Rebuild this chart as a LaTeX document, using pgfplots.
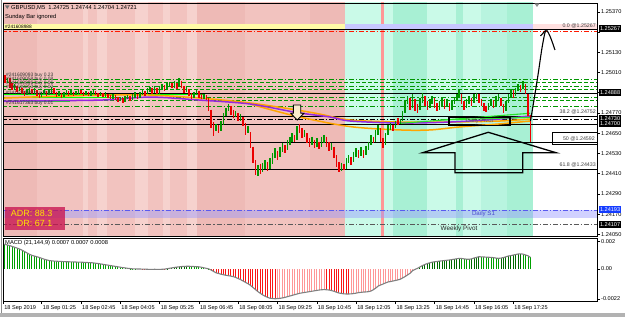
\documentclass[border=0pt]{standalone}
\usepackage{fontspec}
\setmainfont{Liberation Sans}
\usepackage{pgfplots}
\usepackage{pgfplotstable}
\pgfplotsset{compat=1.18}

\definecolor{pA}{RGB}{242,195,191}
\definecolor{pB}{RGB}{238,186,182}
\definecolor{pC}{RGB}{246,210,206}
\definecolor{mA}{RGB}{202,250,232}
\definecolor{mB}{RGB}{168,240,212}
\definecolor{mC}{RGB}{184,244,223}
\definecolor{cgreen}{RGB}{0,150,0}
\definecolor{cred}{RGB}{235,0,0}
\definecolor{hgd}{RGB}{0,105,0}
\definecolor{hgl}{RGB}{0,160,0}
\definecolor{hrb}{RGB}{250,20,20}
\definecolor{hrl}{RGB}{255,150,150}
\definecolor{lvl}{RGB}{0,150,0}
\definecolor{sone}{RGB}{90,90,240}
\definecolor{maor}{RGB}{255,165,0}
\definecolor{mapu}{RGB}{150,40,220}
\definecolor{lime}{RGB}{40,225,40}
\definecolor{adr}{RGB}{200,20,80}
\definecolor{cream}{RGB}{250,235,205}

\pgfplotstableread{
n lo hi c
0 1.24990 1.25045 0
1 1.24950 1.24995 0
2 1.24945 1.24980 1
3 1.24920 1.24975 0
4 1.24905 1.24945 0
5 1.24910 1.24940 1
6 1.24895 1.24930 0
7 1.24900 1.24925 1
8 1.24880 1.24915 0
9 1.24870 1.24900 0
10 1.24875 1.24905 1
11 1.24890 1.24915 1
12 1.24880 1.24910 0
13 1.24885 1.24920 1
14 1.24870 1.24905 0
15 1.24860 1.24890 0
16 1.24865 1.24895 1
17 1.24880 1.24905 1
18 1.24870 1.24900 0
19 1.24875 1.24910 1
20 1.24890 1.24925 1
21 1.24880 1.24915 0
22 1.24865 1.24895 0
23 1.24870 1.24900 1
24 1.24860 1.24890 0
25 1.24865 1.24895 1
26 1.24875 1.24905 1
27 1.24870 1.24900 0
28 1.24875 1.24905 1
29 1.24870 1.24895 0
30 1.24875 1.24900 1
31 1.24885 1.24910 1
32 1.24880 1.24905 0
33 1.24870 1.24895 0
34 1.24875 1.24900 1
35 1.24868 1.24892 0
36 1.24872 1.24898 1
37 1.24880 1.24905 1
38 1.24875 1.24900 0
39 1.24865 1.24890 0
40 1.24870 1.24895 1
41 1.24862 1.24888 0
42 1.24866 1.24892 1
43 1.24858 1.24885 0
44 1.24850 1.24878 0
45 1.24855 1.24880 1
46 1.24845 1.24875 0
47 1.24835 1.24862 0
48 1.24838 1.24865 1
49 1.24830 1.24858 0
50 1.24835 1.24868 1
51 1.24850 1.24878 1
52 1.24842 1.24872 0
53 1.24848 1.24880 1
54 1.24860 1.24892 1
55 1.24855 1.24885 0
56 1.24860 1.24895 1
57 1.24875 1.24905 1
58 1.24870 1.24900 0
59 1.24880 1.24915 1
60 1.24895 1.24925 1
61 1.24885 1.24918 0
62 1.24890 1.24930 1
63 1.24880 1.24915 0
64 1.24885 1.24925 1
65 1.24905 1.24940 1
66 1.24900 1.24935 0
67 1.24905 1.24945 1
68 1.24925 1.24955 1
69 1.24915 1.24950 0
70 1.24920 1.24958 1
71 1.24910 1.24945 0
72 1.24925 1.24975 1
73 1.24915 1.24960 0
74 1.24890 1.24930 0
75 1.24895 1.24925 1
76 1.24870 1.24910 0
77 1.24855 1.24890 0
78 1.24860 1.24895 1
79 1.24875 1.24905 1
80 1.24860 1.24900 0
81 1.24850 1.24885 0
82 1.24855 1.24880 1
83 1.24845 1.24875 0
84 1.24780 1.24860 0
85 1.24680 1.24790 0
86 1.24635 1.24715 0
87 1.24660 1.24705 1
88 1.24650 1.24700 0
89 1.24665 1.24720 1
90 1.24700 1.24770 1
91 1.24750 1.24800 1
92 1.24780 1.24825 1
93 1.24760 1.24810 0
94 1.24740 1.24790 0
95 1.24745 1.24780 1
96 1.24720 1.24770 0
97 1.24725 1.24765 1
98 1.24690 1.24745 0
99 1.24640 1.24710 0
100 1.24650 1.24695 1
101 1.24560 1.24655 0
102 1.24470 1.24570 0
103 1.24400 1.24490 0
104 1.24395 1.24460 1
105 1.24410 1.24470 0
106 1.24420 1.24475 1
107 1.24440 1.24490 1
108 1.24425 1.24480 0
109 1.24440 1.24500 1
110 1.24470 1.24530 1
111 1.24500 1.24560 1
112 1.24490 1.24545 0
113 1.24510 1.24570 1
114 1.24540 1.24590 1
115 1.24530 1.24580 0
116 1.24550 1.24610 1
117 1.24580 1.24630 1
118 1.24600 1.24650 1
119 1.24595 1.24640 0
120 1.24610 1.24690 1
121 1.24650 1.24705 0
122 1.24620 1.24680 0
123 1.24630 1.24670 1
124 1.24590 1.24650 0
125 1.24570 1.24620 0
126 1.24580 1.24630 1
127 1.24560 1.24610 0
128 1.24570 1.24620 1
129 1.24555 1.24600 0
130 1.24565 1.24630 1
131 1.24590 1.24640 1
132 1.24570 1.24630 0
133 1.24545 1.24600 0
134 1.24550 1.24590 1
135 1.24500 1.24570 0
136 1.24450 1.24520 0
137 1.24420 1.24480 0
138 1.24425 1.24475 1
139 1.24430 1.24470 0
140 1.24440 1.24500 1
141 1.24470 1.24520 1
142 1.24460 1.24510 0
143 1.24480 1.24540 1
144 1.24510 1.24560 1
145 1.24500 1.24550 0
146 1.24515 1.24565 1
147 1.24505 1.24550 0
148 1.24520 1.24575 1
149 1.24550 1.24600 1
150 1.24580 1.24640 1
151 1.24590 1.24630 0
152 1.24600 1.24670 1
153 1.24640 1.24700 1
154 1.24600 1.24680 0
155 1.24560 1.24620 0
156 1.24580 1.24650 1
157 1.24640 1.24700 1
158 1.24670 1.24710 1
159 1.24660 1.24700 0
160 1.24680 1.24720 1
161 1.24700 1.24740 0
162 1.24705 1.24735 1
163 1.24720 1.24780 1
164 1.24770 1.24840 1
165 1.24820 1.24870 1
166 1.24790 1.24860 0
167 1.24800 1.24880 1
168 1.24780 1.24850 0
169 1.24770 1.24820 0
170 1.24790 1.24860 1
171 1.24830 1.24890 1
172 1.24810 1.24870 0
173 1.24790 1.24840 0
174 1.24800 1.24850 1
175 1.24820 1.24870 1
176 1.24800 1.24860 0
177 1.24780 1.24830 0
178 1.24790 1.24840 1
179 1.24810 1.24860 1
180 1.24795 1.24850 0
181 1.24805 1.24855 1
182 1.24780 1.24830 0
183 1.24790 1.24845 1
184 1.24820 1.24860 1
185 1.24840 1.24880 1
186 1.24860 1.24905 1
187 1.24820 1.24880 0
188 1.24790 1.24840 0
189 1.24800 1.24850 1
190 1.24820 1.24870 1
191 1.24810 1.24860 0
192 1.24830 1.24880 1
193 1.24850 1.24890 1
194 1.24830 1.24880 0
195 1.24810 1.24850 0
196 1.24780 1.24830 0
197 1.24775 1.24810 0
198 1.24785 1.24830 1
199 1.24810 1.24850 1
200 1.24800 1.24845 0
201 1.24810 1.24870 1
202 1.24840 1.24885 1
203 1.24810 1.24860 0
204 1.24770 1.24820 0
205 1.24780 1.24840 1
206 1.24830 1.24880 1
207 1.24860 1.24910 1
208 1.24860 1.24905 0
209 1.24870 1.24920 1
210 1.24900 1.24940 1
211 1.24895 1.24935 0
212 1.24910 1.24960 1
213 1.24880 1.24940 0
214 1.24750 1.24880 0
215 1.24595 1.24760 0
}\candles

\pgfplotstableread{
n v c
0 0.00183 0
1 0.00180 0
2 0.00176 0
3 0.00171 0
4 0.00165 0
5 0.00159 0
6 0.00153 0
7 0.00146 0
8 0.00138 0
9 0.00128 0
10 0.00118 0
11 0.00108 0
12 0.00100 0
13 0.00095 0
14 0.00090 0
15 0.00085 0
16 0.00078 0
17 0.00072 0
18 0.00067 0
19 0.00062 0
20 0.00060 0
21 0.00058 0
22 0.00057 0
23 0.00056 0
24 0.00055 0
25 0.00054 0
26 0.00053 0
27 0.00053 0
28 0.00052 0
29 0.00052 0
30 0.00051 0
31 0.00050 0
32 0.00050 0
33 0.00049 0
34 0.00048 0
35 0.00047 0
36 0.00046 0
37 0.00045 0
38 0.00042 0
39 0.00040 0
40 0.00037 0
41 0.00034 0
42 0.00031 0
43 0.00028 0
44 0.00025 0
45 0.00022 0
46 0.00019 0
47 0.00016 0
48 0.00013 0
49 0.00010 0
50 0.00008 0
51 0.00005 0
52 0.00003 0
53 0.00001 0
54 0.00001 0
55 0.00000 0
56 0.00000 0
57 -0.00001 2
58 -0.00001 2
59 -0.00002 2
60 -0.00003 2
61 -0.00003 2
62 -0.00002 2
63 -0.00003 2
64 -0.00003 2
65 -0.00002 2
66 -0.00001 2
67 0.00002 1
68 0.00005 1
69 0.00008 1
70 0.00011 1
71 0.00014 1
72 0.00016 1
73 0.00018 1
74 0.00019 1
75 0.00020 1
76 0.00020 0
77 0.00019 0
78 0.00018 0
79 0.00017 0
80 0.00016 0
81 0.00013 0
82 0.00009 0
83 0.00005 0
84 0.00001 0
85 -0.00008 2
86 -0.00018 2
87 -0.00028 2
88 -0.00033 2
89 -0.00038 2
90 -0.00042 2
91 -0.00046 2
92 -0.00049 2
93 -0.00052 2
94 -0.00056 2
95 -0.00062 2
96 -0.00070 2
97 -0.00078 2
98 -0.00088 2
99 -0.00098 2
100 -0.00108 2
101 -0.00120 2
102 -0.00135 2
103 -0.00150 2
104 -0.00165 2
105 -0.00178 2
106 -0.00190 2
107 -0.00200 2
108 -0.00208 2
109 -0.00214 2
110 -0.00216 2
111 -0.00218 2
112 -0.00217 3
113 -0.00215 3
114 -0.00212 3
115 -0.00208 3
116 -0.00203 3
117 -0.00198 3
118 -0.00193 3
119 -0.00188 3
120 -0.00183 3
121 -0.00178 3
122 -0.00175 3
123 -0.00172 3
124 -0.00169 3
125 -0.00166 3
126 -0.00163 3
127 -0.00160 3
128 -0.00157 3
129 -0.00154 3
130 -0.00152 3
131 -0.00151 3
132 -0.00152 2
133 -0.00154 2
134 -0.00158 2
135 -0.00163 2
136 -0.00170 2
137 -0.00176 2
138 -0.00179 2
139 -0.00182 2
140 -0.00183 2
141 -0.00183 2
142 -0.00182 3
143 -0.00180 3
144 -0.00177 3
145 -0.00173 3
146 -0.00171 3
147 -0.00169 3
148 -0.00168 3
149 -0.00166 3
150 -0.00162 3
151 -0.00152 3
152 -0.00140 3
153 -0.00125 3
154 -0.00117 3
155 -0.00110 3
156 -0.00102 3
157 -0.00095 3
158 -0.00092 3
159 -0.00088 3
160 -0.00084 3
161 -0.00080 3
162 -0.00075 3
163 -0.00065 3
164 -0.00055 3
165 -0.00043 3
166 -0.00031 3
167 -0.00012 3
168 -0.00003 3
169 0.00005 1
170 0.00015 1
171 0.00025 1
172 0.00033 1
173 0.00040 1
174 0.00045 1
175 0.00050 1
176 0.00053 1
177 0.00055 1
178 0.00058 1
179 0.00060 1
180 0.00062 1
181 0.00064 1
182 0.00066 1
183 0.00069 1
184 0.00072 1
185 0.00075 1
186 0.00078 1
187 0.00077 0
188 0.00074 0
189 0.00072 0
190 0.00071 0
191 0.00074 1
192 0.00080 1
193 0.00085 1
194 0.00090 1
195 0.00089 0
196 0.00088 0
197 0.00087 0
198 0.00086 0
199 0.00085 0
200 0.00083 0
201 0.00080 0
202 0.00078 0
203 0.00080 1
204 0.00084 1
205 0.00089 1
206 0.00095 1
207 0.00098 1
208 0.00102 1
209 0.00106 1
210 0.00110 1
211 0.00111 1
212 0.00109 0
213 0.00103 0
214 0.00097 0
215 0.00085 0
}\macd

\tikzset{
  dd/.style={dash pattern=on 5bp off 2bp on 1.2bp off 2bp},
  dsh/.style={dash pattern=on 4bp off 2bp},
}

\begin{document}
\begin{tikzpicture}
\useasboundingbox (0,0) rectangle (625bp,317bp);
\fill[white] (0,0) rectangle (625bp,317bp);

% ---------------- main price panel ----------------
\begin{axis}[at={(3bp,81bp)}, anchor=south west, scale only axis,
  width=594bp, height=233bp,
  xmin=0.24, xmax=242.1, ymin=1.24040, ymax=1.25422,
  xtick=\empty,
  ytick={1.2405,1.2417,1.2429,1.2441,1.2453,1.2465,1.2477,1.2489,1.2501,1.2513,1.2525,1.2537},
  yticklabels={1.24050,1.24170,1.24290,1.24410,1.24530,1.24650,1.24770,,1.25010,1.25130,,1.25370},
  scaled y ticks=false,
  ytick pos=right, yticklabel pos=right,
  tick align=outside, major tick length=3bp,
  yticklabel style={font=\fontsize{5.6}{6}\selectfont, anchor=west, inner sep=1bp},
  axis line style={black, line width=0.6bp},
  tick style={black, line width=0.5bp},
  axis on top]

% background session stripes
\fill[pB] (axis cs:0.24,1.2400) rectangle (axis cs:14.09,1.2550);
\fill[pA] (axis cs:14.09,1.2400) rectangle (axis cs:32.82,1.2550);
\fill[pC] (axis cs:32.82,1.2400) rectangle (axis cs:34.85,1.2550);
\fill[pA] (axis cs:34.85,1.2400) rectangle (axis cs:38.52,1.2550);
\fill[pC] (axis cs:38.52,1.2400) rectangle (axis cs:42.59,1.2550);
\fill[pA] (axis cs:42.59,1.2400) rectangle (axis cs:53.99,1.2550);
\fill[pC] (axis cs:53.99,1.2400) rectangle (axis cs:59.28,1.2550);
\fill[pA] (axis cs:59.28,1.2400) rectangle (axis cs:65.39,1.2550);
\fill[pC] (axis cs:65.39,1.2400) rectangle (axis cs:68.24,1.2550);
\fill[pA] (axis cs:68.24,1.2400) rectangle (axis cs:75.16,1.2550);
\fill[pC] (axis cs:75.16,1.2400) rectangle (axis cs:79.23,1.2550);
\fill[pB] (axis cs:79.23,1.2400) rectangle (axis cs:98.78,1.2550);
\fill[pA] (axis cs:98.78,1.2400) rectangle (axis cs:125.24,1.2550);
\fill[pB] (axis cs:125.24,1.2400) rectangle (axis cs:139.5,1.2550);
\fill[mA] (axis cs:139.5,1.2400) rectangle (axis cs:154.15,1.2550);
\fill[hrl] (axis cs:154.15,1.2400) rectangle (axis cs:155.37,1.2550);
\fill[mA] (axis cs:155.37,1.2400) rectangle (axis cs:159.04,1.2550);
\fill[mB] (axis cs:159.04,1.2400) rectangle (axis cs:172.88,1.2550);
\fill[mA] (axis cs:172.88,1.2400) rectangle (axis cs:184.69,1.2550);
\fill[mB] (axis cs:184.69,1.2400) rectangle (axis cs:187.54,1.2550);
\fill[mA] (axis cs:187.54,1.2400) rectangle (axis cs:194.87,1.2550);
\fill[mC] (axis cs:194.87,1.2400) rectangle (axis cs:205.46,1.2550);
\fill[mB] (axis cs:205.46,1.2400) rectangle (axis cs:216.04,1.2550);

% top zone band and S1 band
\fill[yellow!35!white] (axis cs:0.24,1.25270) rectangle (axis cs:139.5,1.25297);
\fill[blue!22!white] (axis cs:139.5,1.25270) rectangle (axis cs:216.04,1.25297);
\fill[red!12!white] (axis cs:216.04,1.25270) rectangle (axis cs:242.1,1.25297);
\fill[blue!40!white, opacity=0.45] (axis cs:0.24,1.24149) rectangle (axis cs:242.1,1.24193);

% level lines
\addplot[black, line width=0.9bp] coordinates {(0,1.25267) (243,1.25267)};
\addplot[red!80!orange, line width=0.9bp, dd] coordinates {(0,1.25256) (243,1.25256)};
\addplot[lvl, line width=0.9bp, dd] coordinates {(0,1.24971) (243,1.24971)};
\addplot[lvl, line width=0.9bp, dsh] coordinates {(0,1.24950) (243,1.24950)};
\addplot[lvl, line width=0.9bp, dd] coordinates {(0,1.24929) (243,1.24929)};
\addplot[lvl, line width=0.9bp, dsh] coordinates {(0,1.24909) (243,1.24909)};
\addplot[lvl, line width=0.9bp, dd] coordinates {(0,1.24861) (243,1.24861)};
\addplot[lvl, line width=0.9bp, dsh] coordinates {(0,1.24846) (243,1.24846)};
\addplot[lvl, line width=0.9bp, dd] coordinates {(0,1.24811) (243,1.24811)};
\addplot[black, line width=0.9bp] coordinates {(0,1.24888) (243,1.24888)};
\addplot[black, line width=0.9bp] coordinates {(0,1.24752) (243,1.24752)};
\addplot[black, line width=0.8bp, dd] coordinates {(0,1.24730) (243,1.24730)};
\addplot[black, line width=0.9bp] coordinates {(0,1.24700) (243,1.24700)};
\addplot[black, line width=0.9bp] coordinates {(0,1.24592) (243,1.24592)};
\addplot[black, line width=0.9bp] coordinates {(0,1.24433) (243,1.24433)};
\addplot[sone, line width=1.3bp, dd] coordinates {(0,1.24193) (243,1.24193)};
\addplot[black!65, line width=0.9bp, dd] coordinates {(0,1.24107) (243,1.24107)};

% order lines
\addplot[green, line width=1.1bp] coordinates {(0.2,1.24879) (82.5,1.24879)};
\addplot[green, line width=1.1bp] coordinates {(0.2,1.24861) (45.8,1.24861)};
\addplot[green, line width=1.1bp] coordinates {(0.2,1.24837) (27.5,1.24837)};

% moving averages
\addplot[maor, line width=1.5bp, smooth] coordinates {(0.2,1.24858) (23.5,1.24870) (43.8,1.24876) (60.1,1.24876) (80.5,1.24858) (100.8,1.24829) (120,1.24787) (129.3,1.24763) (141.5,1.24728) (161.9,1.24716) (182.3,1.24716) (202.6,1.24722) (214.8,1.24734)};
\addplot[maor, line width=1.5bp, smooth] coordinates {(100.8,1.24823) (120,1.24749) (141.5,1.24689) (161.9,1.24669) (174.1,1.24669) (186.3,1.24687) (202.6,1.24705) (214.8,1.24722)};
\addplot[mapu, line width=1.5bp, smooth] coordinates {(0.2,1.24840) (39.7,1.24846) (60.1,1.24864) (80.5,1.24846) (100.8,1.24823) (120,1.24772) (133.4,1.24746) (141.5,1.24722) (161.9,1.24710) (182.3,1.24716) (202.6,1.24734) (214.8,1.24752)};
\addplot[lime, line width=1.1bp] coordinates {(161.9,1.24708) (214.8,1.24768)};
\addplot[lime, line width=1.1bp] coordinates {(178.2,1.24728) (214.8,1.24744)};

% candles (low-high ranges)
\addplot[cgreen, draw=none, mark=none, restrict expr to domain={\thisrow{c}}{1:1},
  error bars/.cd, y dir=minus, y explicit, error mark=none,
  error bar style={draw=cgreen, solid, line width=1.5bp}]
  table[x=n, y=hi, y error minus expr=\thisrow{hi}-\thisrow{lo}] {\candles};
\addplot[cred, draw=none, mark=none, restrict expr to domain={\thisrow{c}}{0:0},
  error bars/.cd, y dir=minus, y explicit, error mark=none,
  error bar style={draw=cred, solid, line width=1.5bp}]
  table[x=n, y=hi, y error minus expr=\thisrow{hi}-\thisrow{lo}] {\candles};
\end{axis}

% ---------------- MACD panel ----------------
\begin{axis}[at={(3bp,16bp)}, anchor=south west, scale only axis,
  width=594bp, height=63bp,
  xmin=0.24, xmax=242.1, ymin=-0.002344, ymax=0.002271,
  xtick={0.3,16,32,48,64,80,96,112,128,144,160,176,192,208},
  xticklabels={18 Sep 2019,18 Sep 01:25,18 Sep 02:45,18 Sep 04:05,18 Sep 05:25,18 Sep 06:45,18 Sep 08:05,18 Sep 09:25,18 Sep 10:45,18 Sep 12:05,18 Sep 13:25,18 Sep 14:45,18 Sep 16:05,18 Sep 17:25},
  xtick pos=bottom,
  ytick={-0.0022,0,0.002}, yticklabels={-0.0022,0.00,0.002},
  scaled y ticks=false, scaled x ticks=false,
  ytick pos=right, yticklabel pos=right,
  tick align=outside, major tick length=3bp,
  xticklabel style={font=\fontsize{5.6}{6}\selectfont, anchor=north west, inner sep=1bp},
  yticklabel style={font=\fontsize{5.6}{6}\selectfont, anchor=west, inner sep=1bp},
  axis line style={black, line width=0.6bp},
  tick style={black, line width=0.5bp},
  axis on top]
\addplot[ycomb, hgl, line width=0.9bp, restrict expr to domain={\thisrow{c}}{0:0}] table[x=n,y=v] {\macd};
\addplot[ycomb, hgd, line width=0.9bp, restrict expr to domain={\thisrow{c}}{1:1}] table[x=n,y=v] {\macd};
\addplot[ycomb, hrb, line width=0.9bp, restrict expr to domain={\thisrow{c}}{2:2}] table[x=n,y=v] {\macd};
\addplot[ycomb, hrl, line width=0.9bp, restrict expr to domain={\thisrow{c}}{3:3}] table[x=n,y=v] {\macd};
\addplot[black!50, line width=1.1bp] table[x=n,y=v] {\macd};
\end{axis}

% ---------------- annotations (pixel coordinates, y down) ----------------
\begin{scope}[shift={(0,317bp)}, x=1bp, y=-1bp]
\draw[black!45, line width=1bp] (1,0) -- (1,313);
\fill[black!30] (0,313.5) rectangle (625,317);
\fill[black!55] (5,5.5) -- (9.5,5.5) -- (7.25,9) -- cycle;
\node[anchor=west, inner sep=0, font=\fontsize{5.8}{7}\selectfont] at (11,8) {GBPUSD,M5\ \ 1.24725 1.24744 1.24704 1.24721};
\node[anchor=west, inner sep=0, font=\fontsize{5.8}{7}\selectfont] at (5,17.5) {Sunday Bar ignored};
\node[anchor=west, inner sep=0, font=\fontsize{4.8}{5}\selectfont] at (5,27.3) {\#241608988};
\fill[black!45] (534.5,3.5) -- (539.5,3.5) -- (537,7) -- cycle;

% order labels
\begin{scope}[every node/.style={anchor=west, inner sep=0, font=\fontsize{4.9}{5}\selectfont, text=black!80}]
\node at (6,75) {\#241609093 buy 0.23};
\node at (6,79.3) {\#241609058 buy 0.08};
\node at (6,83) {\#241609896 buy 0.06};
\node at (6,87) {\#241610253 buy 0.03};
\node at (6,93.5) {\#241611988 buy 0.02};
\node at (6,103.5) {\#241617363 buy 0.01};
\end{scope}

% fibonacci texts and boxes
\begin{scope}[every node/.style={anchor=east, inner sep=0, font=\fontsize{5.3}{6}\selectfont, text=black!75}]
\node at (596,25.5) {0.0 @1.25267};
\node at (596,111.8) {38.2 @1.24752};
\node at (595,138.5) {50 @1.24592};
\node at (596,164.8) {61.8 @1.24433};
\end{scope}
\draw[black, line width=0.9bp] (552,132.5) rectangle (597,144.3);

% daily pivot box
\node[inner sep=0, font=\fontsize{5.8}{6}\selectfont, text=black!60] at (479.5,121.5) {Daily Pivot};
\draw[black, line width=1.3bp] (449,117.3) rectangle (510,125.3);

% big up arrow
\draw[black, line width=1.3bp, line join=miter] (488.3,132.3) -- (422.7,152.7) -- (455,152.7) -- (455,172.7) -- (522.7,172.7) -- (522.7,152.7) -- (556,152.7) -- cycle;

% small down arrow
\draw[black, line width=0.9bp, fill=cream] (293.3,105) -- (300.7,105) -- (300.7,113.3) -- (304,113.3) -- (297.3,120) -- (290.7,113.3) -- (293.3,113.3) -- cycle;

% hand drawn arrow
\draw[black, line width=1.1bp] plot[smooth] coordinates {(530.5,121) (534,100) (538,75) (542,48) (545.5,31) (548.5,33) (551.5,40) (555,50)};
\draw[black, line width=1.1bp] (540.5,36) -- (545.5,30.5);

% pivot texts
\node[inner sep=0, font=\fontsize{6.2}{7}\selectfont, text=sone!85!black] at (483.5,213.5) {Daily S1};
\node[inner sep=0, font=\fontsize{6.4}{7}\selectfont, text=black!85] at (459,228.5) {Weekly Pivot};

% ADR box
\fill[adr, opacity=0.78] (5,206.7) rectangle (65,230);
\node[anchor=east, inner sep=0, font=\fontsize{9}{10}\selectfont, text={rgb,255:red,255;green,230;blue,0}] at (52.5,213.8) {ADR: 88.3};
\node[anchor=east, inner sep=0, font=\fontsize{9}{10}\selectfont, text={rgb,255:red,255;green,230;blue,0}] at (52.5,223.6) {DR: 67.1};

% MACD title
\node[anchor=west, inner sep=0, font=\fontsize{5.8}{7}\selectfont] at (5,243.5) {MACD (21,144,9) 0.0007 0.0007 0.0008};

% highlighted price labels on the right scale
\begin{scope}[every node/.style={anchor=west, inner sep=0.8bp, minimum height=7bp, font=\fontsize{5.6}{6}\selectfont, text=white}]
\node[fill=black] at (599,28.8) {1.25267};
\node[fill=black] at (599,92.3) {1.24888};
\node[fill=black] at (599,118.4) {1.24730};
\node[fill=black] at (599,123.8) {1.24700};
\node[fill={rgb,255:red,20;green,60;blue,255}] at (599,209.5) {1.24193};
\node[fill=black] at (599,224.2) {1.24107};
\end{scope}
\end{scope}
\end{tikzpicture}
\end{document}
